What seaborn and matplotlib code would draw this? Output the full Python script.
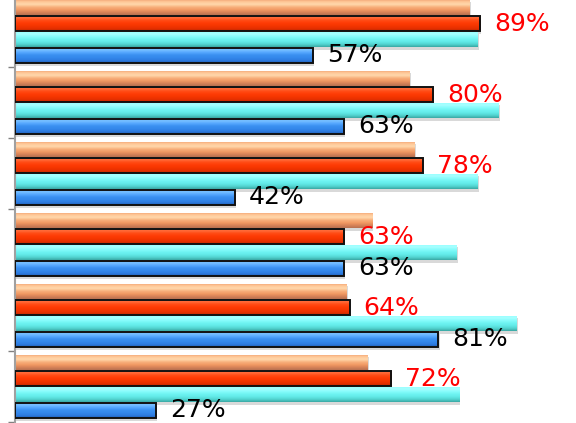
import numpy as np
import pandas as pd
import matplotlib
matplotlib.use("Agg")
import matplotlib.pyplot as plt
from matplotlib.colors import LinearSegmentedColormap
from matplotlib.patches import Rectangle
import seaborn as sns

groups = ["G1", "G2", "G3", "G4", "G5", "G6"]
series = ["peach", "red", "cyan", "blue"]
peach = [87, 75.5, 76.5, 68.3, 63.5, 67.5]
red = [89, 80, 78, 63, 64, 72]
cyan = [88.5, 92.5, 88.5, 84.5, 96, 85]
blue = [57, 63, 42, 63, 81, 27]
red_labels = ["89%", "80%", "78%", "63%", "64%", "72%"]
blue_labels = ["57%", "63%", "42%", "63%", "81%", "27%"]

values = {"peach": peach, "red": red, "cyan": cyan, "blue": blue}
rows = []
for s in series:
    for g, v in zip(groups, values[s]):
        rows.append({"group": g, "series": s, "value": v})
df = pd.DataFrame(rows)

base = {"peach": "#F4A06A", "red": "#FF3C08", "cyan": "#6EF4F2", "blue": "#3A90F0"}
grads = {
    "peach": ["#F0A070", "#FFC898", "#FFD8AC", "#F8B07C", "#F29A64", "#D88458", "#B87050"],
    "red": ["#FF6A38", "#FF6A38", "#FF4A14", "#FF3C05", "#F53600", "#E83000", "#C02800"],
    "cyan": ["#90FFFF", "#A8FFFF", "#88FCFC", "#6EF4F2", "#62EAE8", "#52D4D0", "#3AA8A4"],
    "blue": ["#60B0FF", "#78C0FF", "#56A8FF", "#3A90F0", "#3488EC", "#2E7CE0", "#2060B8"],
}

sns.set_theme(style="white")
fig = plt.figure(figsize=(5.76, 4.23), dpi=100)
ax = fig.add_axes([15 / 576, 1 / 423, (576 - 15) / 576, 422 / 423])

sns.barplot(data=df, x="value", y="group", hue="series", hue_order=series,
            palette=base, orient="h", width=0.9, gap=0.03, saturation=1,
            legend=False, ax=ax, errorbar=None)

for s, cont in zip(series, ax.containers):
    cmap = LinearSegmentedColormap.from_list(s, grads[s])
    for p in cont:
        x0, y0 = p.get_x(), p.get_y()
        w, h = p.get_width(), p.get_height()
        # shadow
        sh = Rectangle((x0 + 0.2, y0 + h * 0.15), w, h, facecolor="#c0c0c0",
                       edgecolor="none", alpha=0.6, zorder=1)
        ax.add_patch(sh)
        im = ax.imshow(np.linspace(0, 1, 64).reshape(-1, 1), cmap=cmap, aspect="auto",
                       extent=(x0, x0 + w, y0 + h, y0), origin="upper",
                       zorder=2.5, interpolation="bilinear")
        im.set_clip_path(p)
        p.set_zorder(3)
        p.set_facecolor("none")
        if s in ("red", "blue"):
            p.set_edgecolor("#111111")
            p.set_linewidth(1.4)
        else:
            p.set_edgecolor("none")

ax.bar_label(ax.containers[1], labels=red_labels, padding=10, color="#FF0000",
             fontsize=18, family="DejaVu Sans")
ax.bar_label(ax.containers[3], labels=blue_labels, padding=10, color="black",
             fontsize=18, family="DejaVu Sans")

ax.set_xlim(0, 107.3)
ax.set_ylim(5.5, -0.444)
ax.set_yticks([0.5, 1.5, 2.5, 4.5, 5.5])
ax.set_yticklabels([])
ax.set_xticks([])
ax.set_xlabel("")
ax.set_ylabel("")
ax.tick_params(axis="y", left=True, length=5, width=1, color="#808080", pad=0)
for side in ["top", "right", "bottom"]:
    ax.spines[side].set_visible(False)
ax.spines["left"].set_color("#A0A0A0")
ax.spines["left"].set_linewidth(1.5)
ax.set_facecolor("white")

fig.savefig("out.png", dpi=100)
